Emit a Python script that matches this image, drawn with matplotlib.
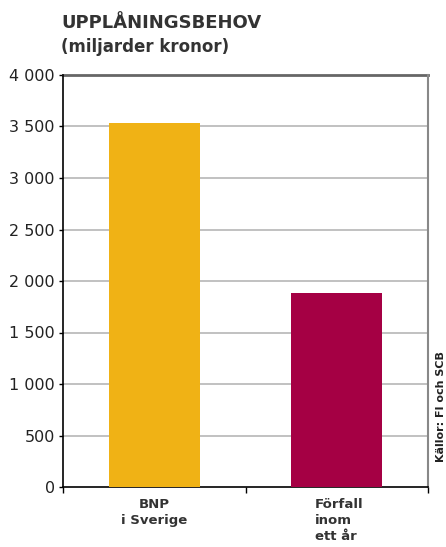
import matplotlib
matplotlib.use("Agg")
import matplotlib.pyplot as plt
import numpy as np

categories = ["BNP\ni Sverige", "Förfall\ninom\nett år"]
values = [3530, 1880]
colors = ["#F0B215", "#A50044"]
yticks = [0, 500, 1000, 1500, 2000, 2500, 3000, 3500, 4000]
ytick_labels = ["0", "500", "1 000", "1 500", "2 000", "2 500", "3 000", "3 500", "4 000"]

plt.rcParams['font.family'] = ['DejaVu Sans']
fig = plt.figure(figsize=(4.46, 5.47), dpi=100)
ax = fig.add_axes([63/446, 60/547, (428-63)/446, (487-75)/547])

x = np.arange(len(categories))
ax.bar(x, values, width=0.5, color=colors, zorder=3)
ax.set_xlim(-0.5, 1.5)
ax.set_ylim(0, 4000)
ax.set_yticks(yticks)
ax.set_yticklabels(ytick_labels, fontsize=11.5, color="#222222")
for y in yticks[1:-1]:
    ax.axhline(y, color="#b0b0b0", lw=1.1, zorder=1)
ax.axhline(4000, color="#666666", lw=2.0, zorder=2, clip_on=False)

ax.set_xticks([-0.5, 0.5, 1.5])
ax.set_xticklabels([])
ax.tick_params(axis='x', direction='out', length=4, width=1, color='black')
ax.tick_params(axis='y', direction='out', length=3, width=1, color='black', pad=3)

for i, c in enumerate(categories):
    ax.annotate(c, xy=(i, 0), xycoords=('data', 'axes fraction'),
                xytext=(2 if i == 1 else 0, -8), textcoords='offset points',
                ha='center', va='top', fontsize=9.5, fontweight='bold',
                color="#333333", multialignment='left' if i == 1 else 'center',
                linespacing=1.3, annotation_clip=False)

ax.spines['top'].set_visible(False)
ax.spines['right'].set_color('#888888')
ax.spines['right'].set_linewidth(1.5)
ax.spines['left'].set_linewidth(1.2)
ax.spines['bottom'].set_linewidth(1.2)

fig.text(61/446, 1 - 28/547, "UPPLÅNINGSBEHOV",
         fontsize=13, fontweight='bold', color="#333333", ha='left', va='baseline')
fig.text(61/446, 1 - 52/547, "(miljarder kronor)", fontsize=12, fontweight='bold',
         color="#333333", ha='left', va='baseline')
fig.text(441/446, 1 - 462/547, "Källor: FI och SCB", rotation=90, fontsize=8,
         fontweight='bold', color="#222222", ha='center', va='bottom')

fig.savefig("out.png", dpi=100)
